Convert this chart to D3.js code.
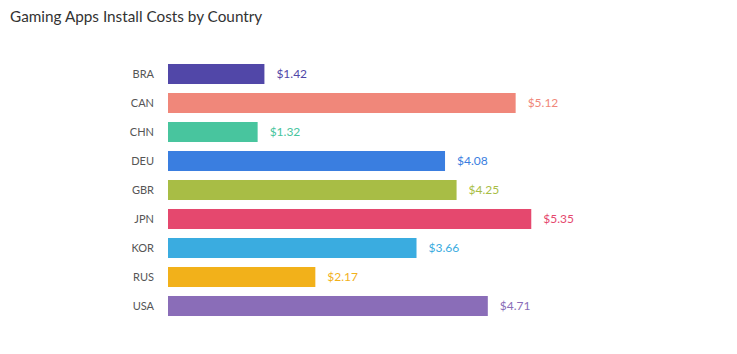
<!DOCTYPE html>
<html>
<head>
<meta charset="utf-8">
<script src="https://cdn.jsdelivr.net/npm/d3@7"></script>
<style>
  body { margin: 0; background: #fff; }
  svg { font-family: Lato, "Open Sans", sans-serif; }
</style>
</head>
<body>
<svg id="chart" width="737" height="354"></svg>
<script>
// chart data
const countries = ["BRA", "CAN", "CHN", "DEU", "GBR", "JPN", "KOR", "RUS", "USA"];
const costs = [1.42, 5.12, 1.32, 4.08, 4.25, 5.35, 3.66, 2.17, 4.71];
const colors = ["#5147a8", "#f0877a", "#48c59e", "#3a7ee0", "#a8bd45",
                "#e5486e", "#3aace0", "#f2b11a", "#8a6db8"];

const svg = d3.select("#chart");

svg.append("text")
  .attr("x", 10)
  .attr("y", 22)
  .attr("font-size", 15.3)
  .attr("fill", "#333")
  .text("Gaming Apps Install Costs by Country");

const x = d3.scaleLinear().domain([0, 6]).range([168, 168 + 6 * 67.9]);
const y = d3.scaleBand()
  .domain(countries)
  .range([59.5, 320.5])
  .paddingInner(0.31)
  .paddingOuter(0.155);

const rows = svg.append("g")
  .selectAll("g")
  .data(countries)
  .enter()
  .append("g");

rows.append("rect")
  .attr("x", x(0))
  .attr("y", d => y(d))
  .attr("width", (d, i) => x(costs[i]) - x(0))
  .attr("height", y.bandwidth())
  .attr("fill", (d, i) => colors[i]);

rows.append("text")
  .attr("x", 154)
  .attr("y", d => y(d) + y.bandwidth() / 2)
  .attr("dy", "0.35em")
  .attr("text-anchor", "end")
  .attr("font-size", 11)
  .attr("fill", "#555")
  .text(d => d);

rows.append("text")
  .attr("x", (d, i) => x(costs[i]) + 12)
  .attr("y", d => y(d) + y.bandwidth() / 2)
  .attr("dy", "0.35em")
  .attr("font-size", 12)
  .attr("fill", (d, i) => colors[i])
  .text((d, i) => "$" + costs[i].toFixed(2));
</script>
</body>
</html>
